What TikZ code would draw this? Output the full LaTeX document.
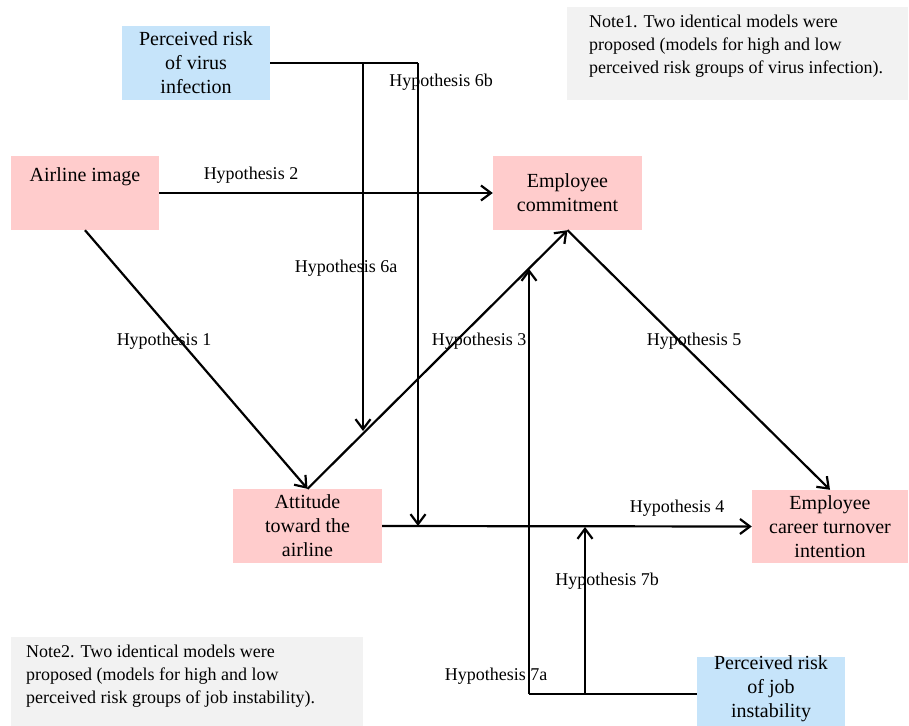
\documentclass[tikz,border=0pt]{standalone}
\usepackage{fontspec}
\setmainfont{Liberation Serif}
\usetikzlibrary{arrows.meta}
\definecolor{pinkbox}{RGB}{255,204,204}
\definecolor{bluebox}{RGB}{198,228,250}
\definecolor{notebox}{RGB}{242,242,242}
\begin{document}
\begin{tikzpicture}[x=1pt,y=-1pt,
  box/.style={rectangle,inner sep=0pt,align=center,font=\fontsize{20}{24}\selectfont},
  pbox/.style={box,fill=pinkbox},
  bbox/.style={box,fill=bluebox},
  note/.style={rectangle,fill=notebox,inner sep=0pt},
  notetext/.style={anchor=north west,align=left,inner sep=0pt,font=\fontsize{18}{23}\selectfont},
  hyp/.style={inner sep=0pt,font=\fontsize{18}{22}\selectfont},
  conn/.style={line width=2.2pt},
  arr/.style={conn,-{Straight Barb[length=10pt,width=15pt,line width=2.2pt]}}
]
\useasboundingbox (0,0) rectangle (909,725);
% notes
\node[note,minimum width=341pt,minimum height=93pt] (note1) at (737.5,53.5) {};
\node[notetext] (note1t) at (589,15) {Note1. Two identical models were\\proposed (models for high and low\\perceived risk groups of virus infection).};
\node[note,minimum width=352pt,minimum height=93pt] (note2) at (187,683.5) {};
\node[notetext] (note2t) at (26,645) {Note2. Two identical models were\\proposed (models for high and low\\perceived risk groups of job instability).};
% boxes
\node[bbox,minimum width=148pt,minimum height=74pt] (virus) at (196,63) {Perceived risk\\of virus\\infection};
\node[pbox,minimum width=148pt,minimum height=74pt] (air) at (85,193) {};
\node[box,anchor=center] (airt) at (85,177) {Airline image};
\node[pbox,minimum width=149pt,minimum height=74pt] (com) at (567.5,193) {Employee\\commitment};
\node[pbox,minimum width=149pt,minimum height=74pt] (att) at (307.5,526) {Attitude\\toward the\\airline};
\node[pbox,minimum width=156pt,minimum height=73pt] (car) at (830,526.5) {Employee\\career turnover\\intention};
\node[bbox,minimum width=148pt,minimum height=74pt] (job) at (771,694) {};
\node[box] (jobt) at (771,689) {Perceived risk\\of job\\instability};
% coordinates
\coordinate (v1) at (363,63);
\coordinate (v2) at (418,63);
\coordinate (v1e) at (363,431);
\coordinate (v2e) at (418,526);
\coordinate (j1) at (529,694);
\coordinate (j2) at (585,694);
\coordinate (j1e) at (529,269);
\coordinate (j2e) at (585,527);
% main connectors
\draw[arr] (air.east) -- (com.west);
\draw[arr] (air.south) -- (att.north);
\draw[arr] (att.north) -- (com.south);
\draw[arr] (com.south) -- (car.north);
\draw[arr] (att.east) -- (car.west);
% moderators
\draw[conn] (virus.east) -- (v2);
\draw[arr] (v1) -- (v1e);
\draw[arr] (v2) -- (v2e);
\draw[conn] (job.west) -- (j1);
\draw[arr] (j1) -- (j1e);
\draw[arr] (j2) -- (j2e);
% labels
\node[hyp] (h2) at (251,175) {Hypothesis 2};
\node[hyp] (h6b) at (441,82) {Hypothesis 6b};
\node[hyp] (h6a) at (346,268) {Hypothesis 6a};
\node[hyp] (h1) at (164,341) {Hypothesis 1};
\node[hyp] (h3) at (479,341) {Hypothesis 3};
\node[hyp] (h5) at (694,341) {Hypothesis 5};
\node[hyp] (h4) at (677,508) {Hypothesis 4};
\node[hyp] (h7b) at (607,581) {Hypothesis 7b};
\node[hyp] (h7a) at (496,676) {Hypothesis 7a};
\end{tikzpicture}
\end{document}
